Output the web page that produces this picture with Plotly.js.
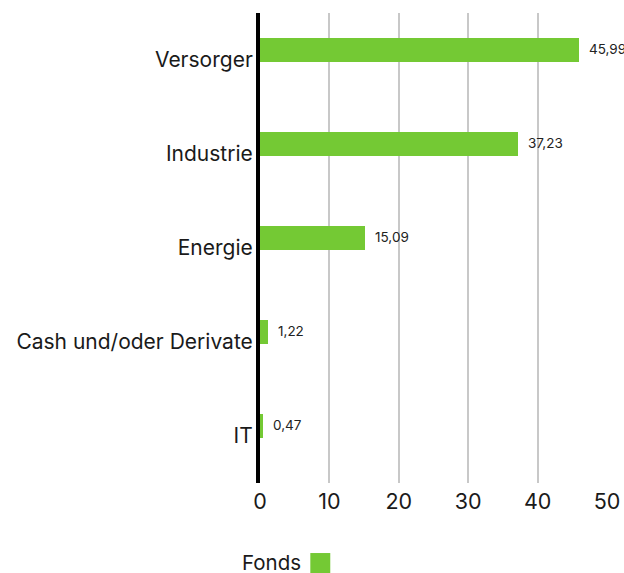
<!DOCTYPE html>
<html><head><meta charset="utf-8">
<script src="https://cdn.plot.ly/plotly-3.0.1.min.js"></script>
<style>html,body{margin:0;padding:0;background:#fff}#chart{width:624px;height:573px}</style>
</head><body><div id="chart"></div>
<script>
const categories = ["Versorger", "Industrie", "Energie", "Cash und/oder Derivate", "IT"];
const values = [45.99, 37.23, 15.09, 1.22, 0.47];
const seriesName = "Fonds";
const xTicks = [0, 10, 20, 30, 40, 50];

const green = "#74c934";
const font = "Inter, 'Noto Sans', sans-serif";
const labels = values.map(v => v.toFixed(2).replace('.', ','));

const trace = {
  type: 'bar', orientation: 'h', name: seriesName,
  y: categories, x: values,
  marker: {color: green},
  width: 0.255, offset: -0.234,
  hoverinfo: 'x+y', showlegend: false
};

const annotations = categories.map((c, i) => ({
  x: values[i], y: c, xref: 'x', yref: 'y',
  text: labels[i], showarrow: false, xanchor: 'left', yanchor: 'middle',
  xshift: 8, yshift: 11,
  font: {family: font, size: 13.5, color: '#222'}
}));
annotations.push({
  xref: 'paper', yref: 'paper', x: 0.125, y: -0.2, xanchor: 'right', yanchor: 'bottom',
  text: seriesName, showarrow: false, font: {family: font, size: 20.5, color: '#1a1a1a'}
});

const layout = {
  width: 624, height: 573,
  margin: {l: 260, r: 17, t: 13, b: 90},
  paper_bgcolor: '#fff', plot_bgcolor: '#fff',
  font: {family: font, color: '#1a1a1a'},
  bargap: 0,
  xaxis: {
    range: [0, 50], tickvals: xTicks, ticktext: xTicks.map(String),
    showgrid: true, gridcolor: '#c8c8c8', gridwidth: 2,
    zeroline: false, showline: false, ticks: '', ticklabelstandoff: 3,
    tickfont: {family: font, size: 21.5, color: '#1a1a1a'}
  },
  yaxis: {
    type: 'category', autorange: 'reversed',
    showgrid: false, zeroline: false,
    showline: true, linecolor: '#000', linewidth: 4,
    ticks: '', ticklabelstandoff: -1,
    tickfont: {family: font, size: 21, color: '#1a1a1a'}
  },
  annotations: annotations,
  shapes: [{
    type: 'rect', xref: 'paper', yref: 'paper',
    x0: 0.145, x1: 0.2025, y0: -0.1915, y1: -0.149,
    fillcolor: green, line: {width: 0}
  }]
};

Plotly.newPlot('chart', [trace], layout, {displayModeBar: false, staticPlot: true});
</script></body></html>
